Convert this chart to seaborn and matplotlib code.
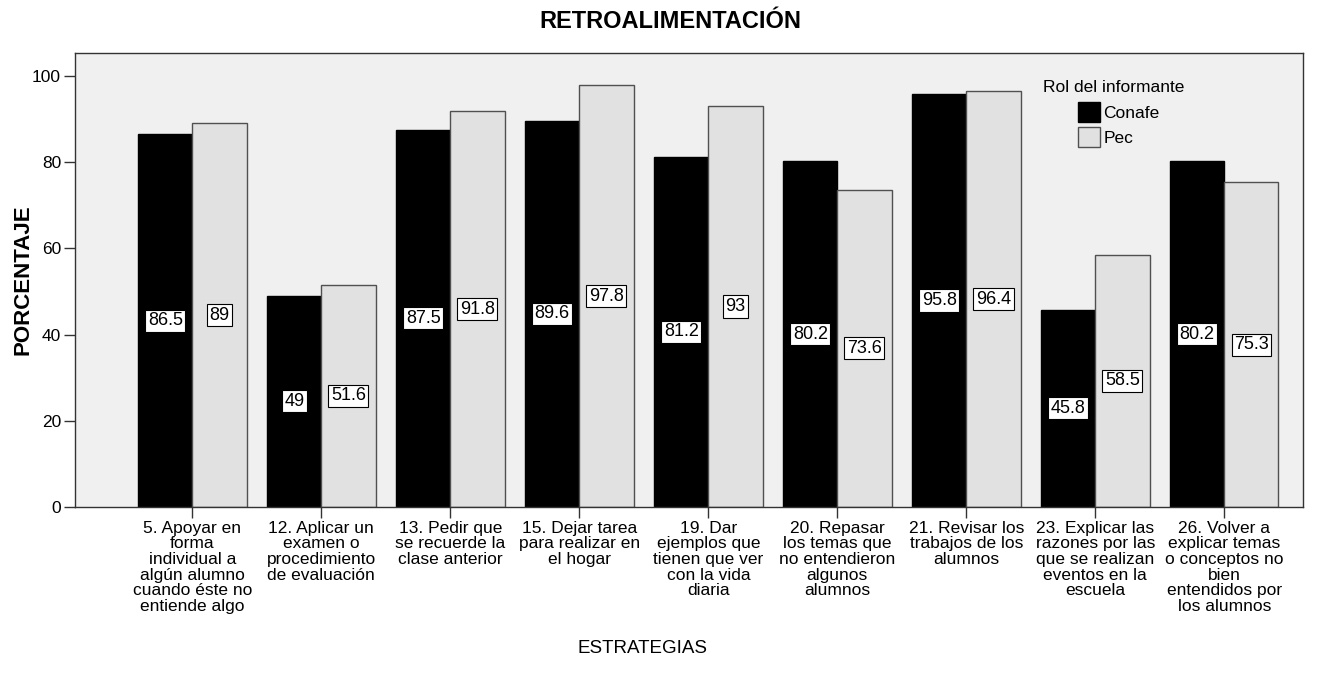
import pandas as pd
import matplotlib.pyplot as plt
import seaborn as sns

# -------------------------------------------------
# Data
# -------------------------------------------------
estrategias = [
    "5. Apoyar en\nforma\nindividual a\nalgún alumno\ncuando éste no\nentiende algo",
    "12. Aplicar un\nexamen o\nprocedimiento\nde evaluación",
    "13. Pedir que\nse recuerde la\nclase anterior",
    "15. Dejar tarea\npara realizar en\nel hogar",
    "19. Dar\nejemplos que\ntienen que ver\ncon la vida\ndiaria",
    "20. Repasar\nlos temas que\nno entendieron\nalgunos\nalumnos",
    "21. Revisar los\ntrabajos de los\nalumnos",
    "23. Explicar las\nrazones por las\nque se realizan\neventos en la\nescuela",
    "26. Volver a\nexplicar temas\no conceptos no\nbien\nentendidos por\nlos alumnos",
]
conafe = [86.5, 49, 87.5, 89.6, 81.2, 80.2, 95.8, 45.8, 80.2]
pec = [89, 51.6, 91.8, 97.8, 93, 73.6, 96.4, 58.5, 75.3]
roles = ["Conafe", "Pec"]

df = pd.DataFrame({
    "Estrategia": estrategias * 2,
    "Rol": ["Conafe"] * len(conafe) + ["Pec"] * len(pec),
    "Porcentaje": conafe + pec,
})

# -------------------------------------------------
# Plot
# -------------------------------------------------
sns.set_style("white")
plt.rcParams["font.family"] = ["Liberation Sans", "DejaVu Sans"]
plt.rcParams["text.color"] = "black"
plt.rcParams["axes.labelcolor"] = "black"
plt.rcParams["xtick.color"] = "black"
plt.rcParams["ytick.color"] = "black"

fig = plt.figure(figsize=(13.3, 6.81), dpi=100)
ax = fig.add_axes([75 / 1330, 1 - 507 / 681, 1228 / 1330, 454 / 681])
ax.set_facecolor("#f0f0f0")

sns.barplot(data=df, x="Estrategia", y="Porcentaje", hue="Rol",
            hue_order=roles, palette=["#000000", "#e1e1e1"],
            width=0.84, ax=ax, saturation=1, legend=False)

# bar edges and value labels (placed at half the bar height)
edge = {"Conafe": "#000000", "Pec": "#505050"}
for cont, rol in zip(ax.containers, roles):
    for bar in cont:
        bar.set_edgecolor(edge[rol])
        bar.set_linewidth(1.0)
        h = bar.get_height()
        ax.text(bar.get_x() + bar.get_width() / 2, h / 2, f"{h:g}",
                ha="center", va="center", fontsize=13, color="black",
                bbox=dict(boxstyle="square,pad=0.14", fc="white",
                          ec="black", lw=0.8))

ax.set_xlim(-0.91, 8.61)
ax.set_ylim(0, 105.3)
ax.set_yticks([0, 20, 40, 60, 80, 100])
ax.tick_params(axis="both", direction="out", length=8, width=1,
               color="#333333", labelsize=12.5, pad=2, bottom=True, left=True)
ax.set_xticks(range(len(estrategias)))
ax.set_xticklabels(estrategias, linespacing=1.05, ha="center")
for s in ax.spines.values():
    s.set_color("#333333")
    s.set_linewidth(1.0)

ax.set_xlabel("ESTRATEGIAS", fontsize=13.5)
ax.xaxis.set_label_coords(0.4625, -0.293)
ax.set_ylabel("PORCENTAJE", fontsize=16, fontweight="bold")
ax.yaxis.set_label_coords(-0.034, 0.5)
fig.text(670 / 1330, 1 - 22 / 681, "RETROALIMENTACIÓN", ha="center",
         va="center", fontsize=17, fontweight="bold")

# legend
handles = [plt.Rectangle((0, 0), 1, 1, fc=c, ec=e)
           for c, e in [("#000000", "#000000"), ("#e1e1e1", "#505050")]]
ax.text(1043 / 1330, 1 - 88 / 681, "Rol del informante", transform=fig.transFigure,
        ha="left", va="center", fontsize=12.5)
ax.legend(handles, roles, loc="upper left",
          bbox_to_anchor=(1078 / 1330, 1 - 102 / 681),
          bbox_transform=fig.transFigure, frameon=False, fontsize=12.5,
          handlelength=1.25, handleheight=1.4, handletextpad=0.2,
          labelspacing=0.3, borderpad=0, borderaxespad=0)

plt.savefig("out.png", dpi=100)
